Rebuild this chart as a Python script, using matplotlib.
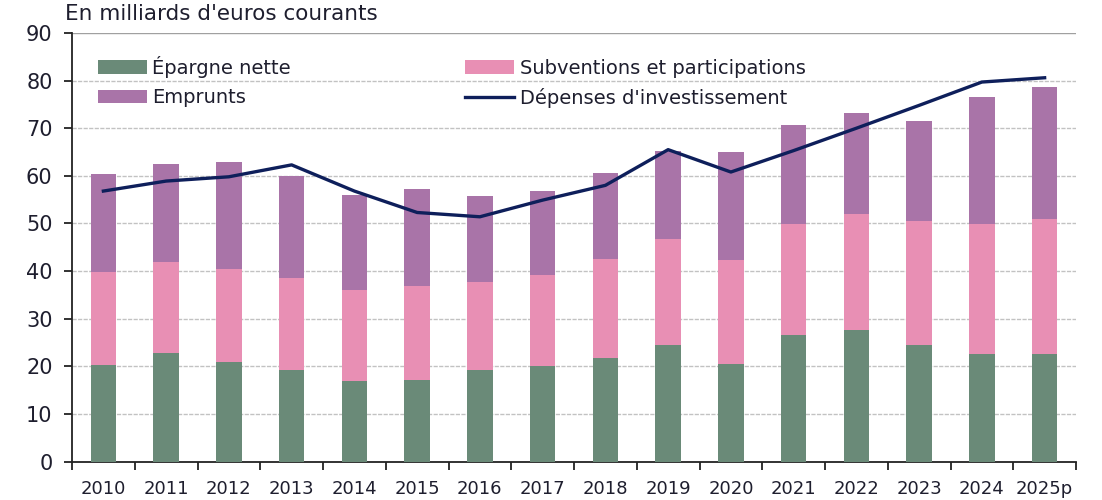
import matplotlib
matplotlib.use("Agg")
import matplotlib.pyplot as plt
import numpy as np

years = ["2010", "2011", "2012", "2013", "2014", "2015", "2016", "2017",
         "2018", "2019", "2020", "2021", "2022", "2023", "2024", "2025p"]
epargne = [20.3, 22.7, 21.0, 19.2, 17.0, 17.2, 19.2, 20.0,
           21.7, 24.4, 20.4, 26.6, 27.7, 24.4, 22.6, 22.6]
subventions = [19.4, 19.3, 19.4, 19.4, 19.1, 19.7, 18.4, 19.1,
               20.8, 22.3, 21.9, 23.2, 24.3, 26.1, 27.2, 28.4]
emprunts = [20.6, 20.4, 22.5, 21.3, 19.9, 20.4, 18.1, 17.7,
            18.0, 18.5, 22.7, 20.8, 21.3, 21.0, 26.8, 27.7]
depenses = [56.8, 58.9, 59.8, 62.3, 56.8, 52.3, 51.4, 54.9,
            58.0, 65.5, 60.8, 65.3, 70.0, 74.8, 79.7, 80.6]

c_green = "#6a8a78"
c_pink = "#e88fb4"
c_purple = "#a974a8"
c_line = "#0e1f5b"
c_text = "#1e1e2e"

plt.rcParams['font.family'] = ['DejaVu Sans']
fig = plt.figure(figsize=(11.02, 5.0), dpi=100)
ax = fig.add_axes([72/1102, 38.5/500, (1076-72)/1102, (461.5-33)/500])

x = np.arange(len(years))
w = 0.41
ep = np.array(epargne)
su = np.array(subventions)
em = np.array(emprunts)
b1 = ax.bar(x, ep, w, color=c_green, label="Épargne nette", zorder=3)
b3 = ax.bar(x, em, w, bottom=ep + su, color=c_purple, label="Emprunts", zorder=3)
b2 = ax.bar(x, su, w, bottom=ep, color=c_pink, label="Subventions et participations", zorder=3)
l1, = ax.plot(x, depenses, color=c_line, lw=2.4, label="Dépenses d'investissement", zorder=4)

ax.set_xlim(-0.5, len(years) - 0.5)
ax.set_ylim(0, 90)
ax.set_yticks(np.arange(0, 91, 10))
ax.set_xticks(x)
ax.set_xticklabels(years, fontsize=13, color=c_text)
ax.set_xticks(np.arange(-0.5, len(years), 1), minor=True)
ax.tick_params(axis='x', which='major', length=0, pad=13)
ax.tick_params(axis='x', which='minor', length=6, width=1.3, color="#222222", direction='out')
ax.tick_params(axis='y', length=6, width=1.3, color="#222222", direction='out',
               labelsize=15, labelcolor=c_text, pad=8)

for v in range(10, 90, 10):
    ax.axhline(v, color="#c2c2c2", lw=1.0, ls=(0, (3, 1)), zorder=1)
ax.axhline(90, color="#a0a0a0", lw=1.0, zorder=1)

for s in ["top", "right"]:
    ax.spines[s].set_visible(False)
ax.spines["left"].set_color("#222222")
ax.spines["left"].set_linewidth(1.3)
ax.spines["bottom"].set_color("#222222")
ax.spines["bottom"].set_linewidth(1.3)

fig.text(65/1102, 1 - 14/500, "En milliards d'euros courants", fontsize=15.5, color=c_text,
         ha='left', va='center')

leg = ax.legend(handles=[b1, b3, b2, l1], ncol=2, loc='upper left',
                bbox_to_anchor=((98-72)/1004, (461.5-56)/428.5), frameon=False, fontsize=14,
                borderaxespad=0, borderpad=0,
                handlelength=2.5, handleheight=0.7, handletextpad=0.3,
                columnspacing=8.95, labelspacing=0.52)
for t in leg.get_texts():
    t.set_color(c_text)

fig.savefig("out.png", dpi=100)
